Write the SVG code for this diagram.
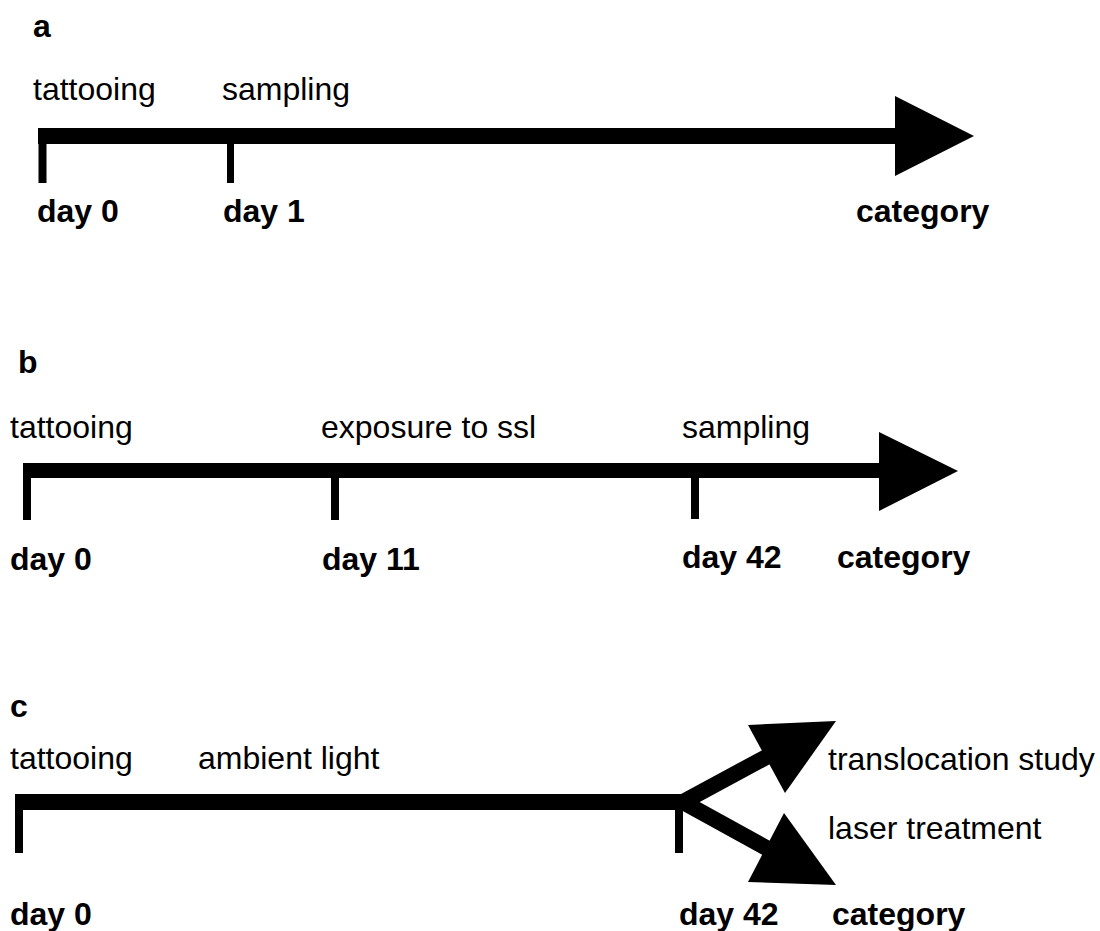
<svg xmlns="http://www.w3.org/2000/svg" width="1100" height="931" viewBox="0 0 1100 931">
<style>
.t{font-family:"Liberation Sans",Arial,sans-serif;font-size:32px;fill:#000}
.b{font-family:"Liberation Sans",Arial,sans-serif;font-size:32px;font-weight:bold;fill:#000}
.k{fill:#000}
.br{stroke:#000;stroke-width:16;fill:none}
</style>
<rect width="1100" height="931" fill="#fff"/>
<g id="panel-a">
<text class="b" x="33" y="37">a</text>
<text class="t" x="33" y="100">tattooing</text>
<text class="t" x="222" y="100">sampling</text>
<text class="b" x="37" y="222">day 0</text>
<text class="b" x="223" y="222">day 1</text>
<text class="b" x="856" y="222">category</text>
</g>
<g id="panel-b">
<text class="b" x="18" y="373">b</text>
<text class="t" x="10" y="438">tattooing</text>
<text class="t" x="321" y="438">exposure to ssl</text>
<text class="t" x="682" y="438">sampling</text>
<text class="b" x="10" y="570">day 0</text>
<text class="b" x="322" y="570">day 11</text>
<text class="b" x="682" y="568">day 42</text>
<text class="b" x="837" y="568">category</text>
</g>
<g id="panel-c">
<text class="b" x="10" y="717">c</text>
<text class="t" x="10" y="769">tattooing</text>
<text class="t" x="198" y="769">ambient light</text>
<text class="t" x="828" y="770">translocation study</text>
<text class="t" x="828" y="839">laser treatment</text>
<text class="b" x="10" y="925">day 0</text>
<text class="b" x="679" y="925">day 42</text>
<text class="b" x="832" y="925">category</text>
</g>
<g id="connectors">
<rect class="k" x="38" y="128" width="860" height="16"/>
<rect class="k" x="38.5" y="136" width="8" height="47"/>
<rect class="k" x="227" y="136" width="7" height="47"/>
<polygon class="k" points="895,96 974,136 895,176"/>
<rect class="k" x="23" y="463" width="859" height="15"/>
<rect class="k" x="23" y="470" width="8" height="50"/>
<rect class="k" x="331" y="470" width="8" height="50"/>
<rect class="k" x="691" y="470" width="8" height="49"/>
<polygon class="k" points="879,432 958,471 879,511"/>
<rect class="k" x="15" y="794" width="672" height="16"/>
<rect class="k" x="15" y="802" width="8" height="51"/>
<rect class="k" x="675" y="802" width="8" height="51"/>
<line class="br" x1="683" y1="802" x2="770" y2="755"/>
<line class="br" x1="683" y1="802" x2="770" y2="850"/>
<polygon class="k" points="748,725 836,721 785,793"/>
<polygon class="k" points="784,813 836,885 748,882"/>
</g>
</svg>
